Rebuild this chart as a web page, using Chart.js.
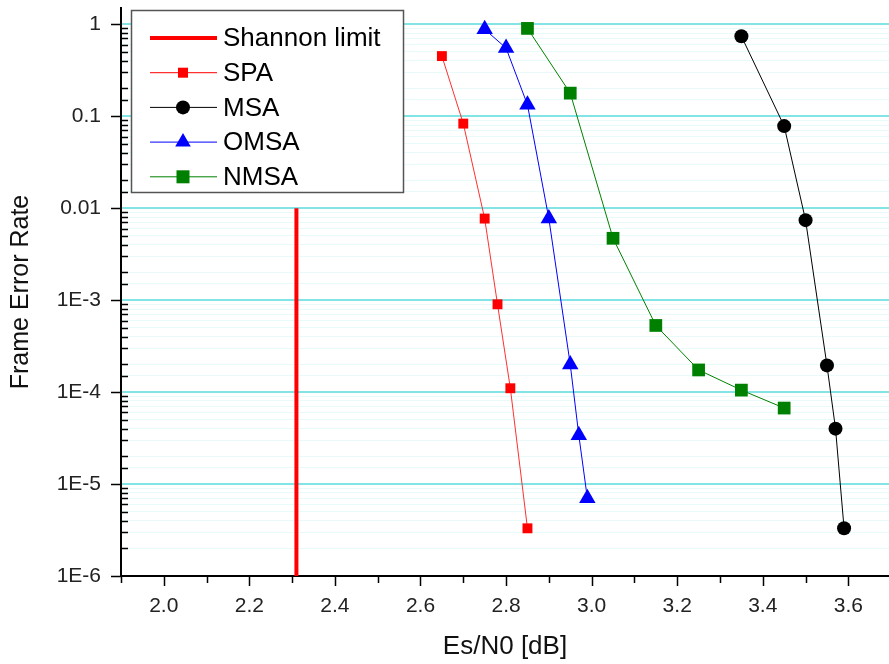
<!DOCTYPE html>
<html>
<head>
<meta charset="utf-8">
<script src="https://cdn.jsdelivr.net/npm/chart.js@4/dist/chart.umd.min.js"></script>
<style>
  body { margin: 0; background: #fff; }
  #wrap { width: 889px; height: 664px; }
</style>
</head>
<body>
<div id="wrap"><canvas id="myChart" width="889" height="664"></canvas></div>
<script>
// data
const shannonX = [2.31, 2.31];
const shannonY = [1e-6, 0.01];
const spaX = [2.65, 2.70, 2.75, 2.78, 2.81, 2.85];
const spaY = [0.45, 0.083, 0.0077, 0.0009, 1.1e-4, 3.3e-6];
const msaX = [3.35, 3.45, 3.50, 3.55, 3.57, 3.59];
const msaY = [0.74, 0.078, 0.0074, 1.95e-4, 4.0e-5, 3.3e-6];
const omsaX = [2.75, 2.80, 2.85, 2.90, 2.95, 2.97, 2.99];
const omsaY = [0.88, 0.55, 0.133, 0.0077, 2.0e-4, 3.4e-5, 7.0e-6];
const nmsaX = [2.85, 2.95, 3.05, 3.15, 3.25, 3.35, 3.45];
const nmsaY = [0.9, 0.178, 0.0047, 5.3e-4, 1.74e-4, 1.05e-4, 6.7e-5];

// tick labels
const yTickValues = [1e-6, 1e-5, 1e-4, 1e-3, 0.01, 0.1, 1];
const yTickLabels = ['1E-6', '1E-5', '1E-4', '1E-3', '0.01', '0.1', '1'];
const xTickValues = [2.0, 2.2, 2.4, 2.6, 2.8, 3.0, 3.2, 3.4, 3.6];
const xTickLabels = ['2.0', '2.2', '2.4', '2.6', '2.8', '3.0', '3.2', '3.4', '3.6'];

const FONT = '"Liberation Sans", Arial, sans-serif';

function pts(xs, ys) {
    return xs.map((x, i) => ({x: x, y: ys[i]}));
}

function isDecade(v) {
    const l = Math.log10(v);
    return Math.abs(l - Math.round(l)) < 1e-6;
}

function findLabel(vals, labels, v) {
    for (let i = 0; i < vals.length; i++) {
        if (Math.abs(vals[i] - v) < vals[i] * 1e-6 + 1e-9) return labels[i];
    }
    return '';
}

//legend entries, styles taken from datasets
const legendRows = [
    {label: 'Shannon limit', color: '#ff0000', lineWidth: 4, shape: null},
    {label: 'SPA', color: '#ff0000', lineWidth: 1, shape: 'rect', size: 10},
    {label: 'MSA', color: '#000000', lineWidth: 1, shape: 'circle', size: 7},
    {label: 'OMSA', color: '#0000ff', lineWidth: 1, shape: 'triangle', size: 9},
    {label: 'NMSA', color: '#008000', lineWidth: 1, shape: 'rect', size: 13}
];

function drawMarker(ctx, shape, x, y, size, color) {
    ctx.fillStyle = color;
    ctx.beginPath();
    if (shape === 'rect') {
        ctx.rect(x - size / 2, y - size / 2, size, size);
    } else if (shape === 'circle') {
        ctx.arc(x, y, size, 0, Math.PI * 2);
    } else if (shape === 'triangle') {
        ctx.moveTo(x, y - size);
        ctx.lineTo(x + size * 0.866, y + size / 2);
        ctx.lineTo(x - size * 0.866, y + size / 2);
        ctx.closePath();
    }
    ctx.fill();
}

// axis tick marks + legend box
const decorPlugin = {
    id: 'decor',
    afterDraw(chart) {
        const ctx = chart.ctx;
        const xs = chart.scales.x;
        const ys = chart.scales.y;
        const area = chart.chartArea;
        ctx.save();
        ctx.strokeStyle = '#000';
        ctx.lineWidth = 1.5;
        ctx.beginPath();
        xs.ticks.forEach(t => {
            const tenth = t.value * 10;
            if (Math.abs(tenth - Math.round(tenth)) > 1e-6) return;
            const px = Math.round(xs.getPixelForValue(t.value)) + 0.5;
            const major = Math.round(tenth) % 2 === 0;
            ctx.moveTo(px, area.bottom);
            ctx.lineTo(px, area.bottom + (major ? 10 : 7));
        });
        ys.ticks.forEach(t => {
            if (t.value > 1.01) return;
            const py = Math.round(ys.getPixelForValue(t.value)) + 0.5;
            if (isDecade(t.value)) {
                ctx.moveTo(area.left - 10, py);
                ctx.lineTo(area.left, py);
            } else {
                ctx.moveTo(area.left, py);
                ctx.lineTo(area.left + 7, py);
            }
        });
        ctx.stroke();

        // legend
        const bx = 131, by = 10, bw = 272, bh = 182;
        ctx.fillStyle = '#fff';
        ctx.fillRect(bx, by, bw, bh);
        ctx.strokeStyle = '#555';
        ctx.lineWidth = 1.5;
        ctx.strokeRect(bx + 0.5, by + 0.5, bw, bh);
        ctx.font = '26px ' + FONT;
        ctx.textBaseline = 'middle';
        legendRows.forEach((r, i) => {
            const y = 38 + i * 34.7;
            ctx.strokeStyle = r.color;
            ctx.lineWidth = r.lineWidth;
            ctx.beginPath();
            ctx.moveTo(150, y);
            ctx.lineTo(217, y);
            ctx.stroke();
            if (r.shape) drawMarker(ctx, r.shape, 183, y, r.size, r.color);
            ctx.fillStyle = '#000';
            ctx.fillText(r.label, 223, y + 1);
        });
        ctx.restore();
    }
};

const ctx = document.getElementById('myChart').getContext('2d');

const data = {
    datasets: [
        {
            label: 'Shannon limit',
            data: pts(shannonX, shannonY),
            borderColor: '#ff0000',
            borderWidth: 4,
            pointRadius: 0,
            showLine: true
        },
        {
            label: 'SPA',
            data: pts(spaX, spaY),
            borderColor: '#ff3030',
            backgroundColor: '#ff0000',
            borderWidth: 1,
            pointStyle: 'rect',
            pointRadius: 7,
            pointBorderWidth: 0,
            showLine: true
        },
        {
            label: 'MSA',
            data: pts(msaX, msaY),
            borderColor: '#000000',
            backgroundColor: '#000000',
            borderWidth: 1,
            pointStyle: 'circle',
            pointRadius: 7,
            pointBorderWidth: 0,
            showLine: true
        },
        {
            label: 'OMSA',
            data: pts(omsaX, omsaY),
            borderColor: '#0000ff',
            backgroundColor: '#0000ff',
            borderWidth: 1,
            pointStyle: 'triangle',
            pointRadius: 9.5,
            pointBorderWidth: 0,
            showLine: true
        },
        {
            label: 'NMSA',
            data: pts(nmsaX, nmsaY),
            borderColor: '#008000',
            backgroundColor: '#008000',
            borderWidth: 1,
            pointStyle: 'rect',
            pointRadius: 9,
            pointBorderWidth: 0,
            showLine: true
        }
    ]
};

const myChart = new Chart(ctx, {
    type: 'scatter',
    data: data,
    plugins: [decorPlugin],
    options: {
        responsive: false,
        animation: false,
        layout: {autoPadding: false, padding: {left: 0, right: 0, top: 8, bottom: 0}},
        plugins: {
            legend: {display: false},
            tooltip: {enabled: false}
        },
        scales: {
            x: {
                type: 'linear',
                min: 1.9,
                max: 3.695,
                afterFit: (s) => { s.height = 88; s.paddingLeft = 0; s.paddingRight = 0; },
                grid: {display: false, drawTicks: false},
                border: {display: true, color: '#000', width: 2},
                ticks: {
                    stepSize: 0.1,
                    includeBounds: false,
                    autoSkip: false,
                    maxRotation: 0,
                    padding: 18,
                    color: '#222',
                    font: {family: FONT, size: 21},
                    callback: (v) => findLabel(xTickValues, xTickLabels, v)
                },
                title: {
                    display: true,
                    text: 'Es/N0 [dB]',
                    color: '#111',
                    font: {family: FONT, size: 26},
                    padding: {top: 0, bottom: 2}
                }
            },
            y: {
                type: 'logarithmic',
                min: 1e-6,
                max: 1.5,
                afterFit: (s) => { s.width = 121; s.paddingTop = 0; s.paddingBottom = 0; },
                grid: {
                    drawTicks: false,
                    color: (c) => {
                        const v = c.tick ? c.tick.value : 0;
                        if (v > 1.01) return 'rgba(0,0,0,0)';
                        return isDecade(v) ? 'rgb(130,228,228)' : 'rgba(150,230,230,0.22)';
                    },
                    lineWidth: (c) => (c.tick && isDecade(c.tick.value)) ? 2 : 1
                },
                border: {display: true, color: '#000', width: 2},
                ticks: {
                    autoSkip: false,
                    padding: 20,
                    color: '#222',
                    font: {family: FONT, size: 21},
                    callback: (v) => isDecade(v) ? findLabel(yTickValues, yTickLabels, v) : ''
                },
                title: {
                    display: true,
                    text: 'Frame Error Rate',
                    color: '#111',
                    font: {family: FONT, size: 25},
                    padding: {top: 6, bottom: 0}
                }
            }
        }
    }
});
</script>
</body>
</html>
